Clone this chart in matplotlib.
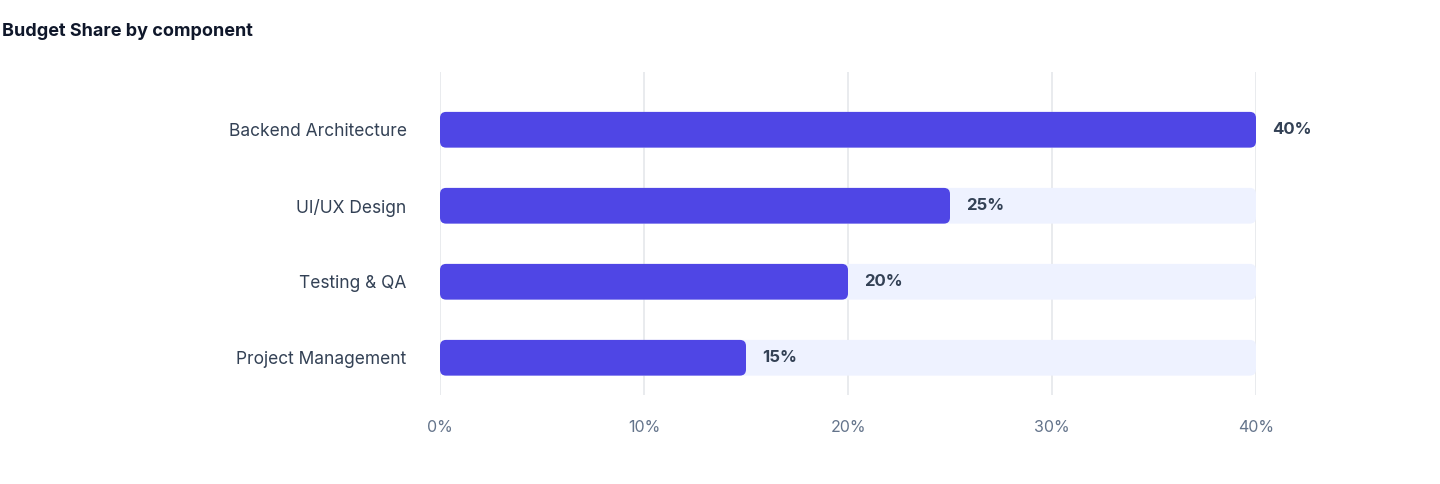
import matplotlib.pyplot as plt
from matplotlib.patches import FancyBboxPatch

components = ["Backend Architecture", "UI/UX Design", "Testing & QA", "Project Management"]
shares = [40, 25, 20, 15]
track_max = 40
x_ticks = [0, 10, 20, 30, 40]

plt.rcParams['font.family'] = ['Inter', 'DejaVu Sans']

fig = plt.figure(figsize=(14.4, 4.84), dpi=100)
# axes placed in pixel terms: x 440..1256, y 72..395
ax = fig.add_axes([440 / 1440, 1 - 395 / 484, 816 / 1440, 323 / 484])

ax.set_xlim(0, track_max)
ax.set_ylim(3.49, -0.76)

bar_h = 0.47
px_x = 816 / track_max
px_y = 76
aspect = px_x / px_y

for i, (name, val) in enumerate(zip(components, shares)):
    track = FancyBboxPatch((0, i - bar_h / 2), track_max, bar_h,
                           boxstyle="round,pad=0,rounding_size=0.3",
                           mutation_aspect=aspect,
                           facecolor="#EEF2FF", edgecolor="none", zorder=2)
    ax.add_patch(track)
    bar = FancyBboxPatch((0, i - bar_h / 2), val, bar_h,
                         boxstyle="round,pad=0,rounding_size=0.3",
                         mutation_aspect=aspect,
                         facecolor="#4F46E5", edgecolor="none", zorder=3)
    ax.add_patch(bar)
    ax.text(val + 0.8, i, f"{val}%", va="center", ha="left",
            fontsize=12, fontweight="bold", color="#334155", zorder=4)

ax.set_yticks(range(len(components)))
ax.set_yticklabels(components, fontsize=12.5, color="#334155")
ax.set_xticks(x_ticks)
ax.set_xticklabels([f"{t}%" for t in x_ticks], fontsize=11.5, color="#64748B")
ax.tick_params(length=0)
ax.tick_params(axis="y", pad=24)
ax.tick_params(axis="x", pad=18)

ax.grid(axis="x", color="#E5E7EB", linewidth=1.2, zorder=0)
ax.set_axisbelow(True)
for s in ax.spines.values():
    s.set_visible(False)

fig.text(2 / 1440, 1 - 31 / 484, "Budget Share by component", fontsize=13,
         fontweight="bold", color="#0F172A", va="center", ha="left")

fig.savefig("out.png", dpi=100)
